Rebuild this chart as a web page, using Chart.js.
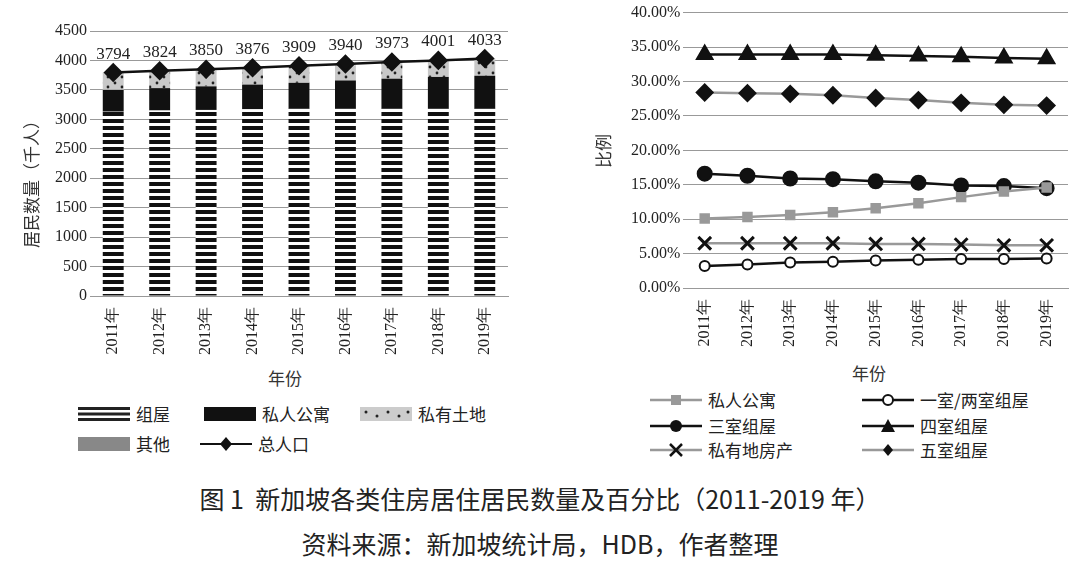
<!DOCTYPE html>
<html><head><meta charset="utf-8">
<script src="https://cdn.jsdelivr.net/npm/chart.js@4"></script>
<style>
body{margin:0;width:1080px;height:565px;background:#fff;position:relative;overflow:hidden;font-family:"Liberation Serif","Noto Sans CJK SC",serif;}
.box{position:absolute}
.t{position:absolute;font-family:"Noto Sans CJK SC",serif;color:#333}
.leg{position:absolute;font-size:17px;color:#222;font-family:"Noto Sans CJK SC",serif;display:flex;align-items:center;gap:6px}
.cap{position:absolute;width:1080px;text-align:center;font-family:"Noto Sans CJK SC",sans-serif;font-size:25px;color:#222}
</style></head><body>
<div class="box" style="left:0;top:0;width:520px;height:358px"><canvas id="c1"></canvas></div>
<div class="box" style="left:590px;top:0;width:490px;height:350px"><canvas id="c2"></canvas></div>
<div class="t" style="left:18px;top:248px;transform:rotate(-90deg);transform-origin:left top;font-size:17px;">居民数量（千人）</div>
<div class="t" style="left:268px;top:365px;font-size:17px">年份</div>
<div class="t" style="left:590px;top:168px;transform:rotate(-90deg);transform-origin:left top;font-size:17px">比例</div>
<div class="t" style="left:852px;top:360px;font-size:17px">年份</div>

<div class="leg" style="left:78px;top:401px"><svg width="52" height="14"><rect y="0" width="52" height="3" fill="#222"/><rect y="5.5" width="52" height="3" fill="#222"/><rect y="11" width="52" height="3" fill="#222"/></svg>组屋</div>
<div class="leg" style="left:204px;top:401px"><svg width="52" height="14"><rect width="52" height="14" fill="#111"/></svg>私人公寓</div>
<div class="leg" style="left:360px;top:401px"><svg width="52" height="14"><rect width="52" height="14" fill="#ccc"/><circle cx="6" cy="5" r="1.5" fill="#222"/><circle cx="17" cy="9" r="1.5" fill="#222"/><circle cx="28" cy="5" r="1.5" fill="#222"/><circle cx="39" cy="9" r="1.5" fill="#222"/><circle cx="48" cy="5" r="1.5" fill="#222"/></svg>私有土地</div>
<div class="leg" style="left:78px;top:431px"><svg width="52" height="14"><rect width="52" height="14" fill="#888"/></svg>其他</div>
<div class="leg" style="left:200px;top:431px"><svg width="52" height="14"><line x1="0" y1="7" x2="52" y2="7" stroke="#111" stroke-width="2"/><polygon points="26,0 32,7 26,14 20,7" fill="#111"/></svg>总人口</div>

<div class="leg" style="left:650px;top:387px"><svg width="52" height="14"><line x1="0" y1="7" x2="52" y2="7" stroke="#999" stroke-width="2.5"/><rect x="21" y="2" width="10" height="10" fill="#999"/></svg>私人公寓</div>
<div class="leg" style="left:862px;top:387px"><svg width="52" height="14"><line x1="0" y1="7" x2="52" y2="7" stroke="#111" stroke-width="2.5"/><circle cx="26" cy="7" r="5" fill="#fff" stroke="#111" stroke-width="2"/></svg>一室/两室组屋</div>
<div class="leg" style="left:650px;top:413px"><svg width="52" height="14"><line x1="0" y1="7" x2="52" y2="7" stroke="#111" stroke-width="2.5"/><circle cx="26" cy="7" r="6" fill="#111"/></svg>三室组屋</div>
<div class="leg" style="left:862px;top:413px"><svg width="52" height="14"><line x1="0" y1="7" x2="52" y2="7" stroke="#111" stroke-width="2.5"/><polygon points="26,0 33,13 19,13" fill="#111"/></svg>四室组屋</div>
<div class="leg" style="left:650px;top:437px"><svg width="52" height="14"><line x1="0" y1="7" x2="52" y2="7" stroke="#999" stroke-width="2.5"/><path d="M20 1L32 13M32 1L20 13" stroke="#111" stroke-width="2.5"/></svg>私有地房产</div>
<div class="leg" style="left:862px;top:437px"><svg width="52" height="14"><line x1="0" y1="7" x2="52" y2="7" stroke="#999" stroke-width="2.5"/><polygon points="26,1 31,7 26,13 21,7" fill="#111"/></svg>五室组屋</div>

<div class="cap" style="top:480px">图 1&nbsp; 新加坡各类住房居住居民数量及百分比（2011-2019 年）</div>
<div class="cap" style="top:525px">资料来源：新加坡统计局，HDB，作者整理</div>
<script>
const years=["2011年","2012年","2013年","2014年","2015年","2016年","2017年","2018年","2019年"];
const total=[3794,3824,3850,3876,3909,3940,3973,4001,4033];
const hdb=[3130,3150,3160,3170,3180,3180,3180,3180,3180];
const condo=[370,380,400,420,440,480,510,540,560];
const land=[274,274,270,266,269,260,263,261,273];
const other=[20,20,20,20,20,20,20,20,20];
const pCondo=[10.1,10.3,10.6,11.0,11.6,12.3,13.2,14.0,14.6];
const p12=[3.2,3.4,3.7,3.8,4.0,4.1,4.2,4.2,4.3];
const p3=[16.6,16.3,15.9,15.8,15.5,15.3,14.9,14.8,14.5];
const p4=[33.9,33.9,33.9,33.9,33.8,33.7,33.6,33.4,33.3];
const pLand=[6.5,6.5,6.5,6.5,6.4,6.4,6.3,6.2,6.2];
const p5=[28.4,28.3,28.2,28.0,27.6,27.3,26.9,26.6,26.5];

function pat(fn,w,h){const c=document.createElement('canvas');c.width=w;c.height=h;const x=c.getContext('2d');fn(x);return x.createPattern(c,'repeat');}
const stripe=pat(x=>{x.fillStyle='#fff';x.fillRect(0,0,4,7);x.fillStyle='#111';x.fillRect(0,0,4,4);},4,7);
const dots=pat(x=>{x.fillStyle='#c8c8c8';x.fillRect(0,0,14,10);x.fillStyle='#222';x.beginPath();x.arc(3,3,1.4,0,7);x.arc(10,7,1.4,0,7);x.fill();},14,10);
const serif='"Liberation Serif","DejaVu Serif",serif';
const gridC='#999';
const labelPlug={id:'lbl',afterDatasetsDraw(ch){const m=ch.getDatasetMeta(4);const c=ch.ctx;c.save();c.font='17px '+serif;c.fillStyle='#222';c.textAlign='center';m.data.forEach((p,i)=>{c.fillText(total[i],p.x,p.y-14);});c.restore();}};
new Chart(document.getElementById('c1'),{
 data:{labels:years,datasets:[
  {type:'bar',label:'组屋',data:hdb,backgroundColor:stripe,stack:'s',order:1},
  {type:'bar',label:'私人公寓',data:condo,backgroundColor:'#111',stack:'s',order:1},
  {type:'bar',label:'私有土地',data:land,backgroundColor:dots,stack:'s',order:1},
  {type:'bar',label:'其他',data:other,backgroundColor:'#bbb',stack:'s',order:1},
  {type:'line',label:'总人口',data:total,borderColor:'#111',borderWidth:2.5,pointStyle:'rectRot',pointRadius:8,pointBackgroundColor:'#111',pointBorderColor:'#111',order:0,stack:'l'}
 ]},
 options:{responsive:true,maintainAspectRatio:false,animation:false,
  layout:{padding:{left:52,right:12,top:31,bottom:0}},
  plugins:{legend:{display:false},tooltip:{enabled:false}},
  datasets:{bar:{barPercentage:0.45,categoryPercentage:1}},
  scales:{x:{stacked:true,grid:{display:false},border:{color:gridC},ticks:{color:'#222',font:{family:serif,size:16},minRotation:90,maxRotation:90}},
   y:{stacked:true,min:0,max:4500,ticks:{stepSize:500,color:'#222',font:{family:serif,size:16},callback:v=>String(v)},grid:{color:gridC,drawTicks:false},border:{display:false}}}},
 plugins:[labelPlug]});
const mk=(l,d,col,ps,r,bg)=>({label:l,data:d,borderColor:col,borderWidth:2.5,pointStyle:ps,pointRadius:r,pointBackgroundColor:bg,pointBorderColor:'#111',pointBorderWidth:2});
new Chart(document.getElementById('c2'),{type:'line',
 data:{labels:years,datasets:[
  Object.assign(mk('私人公寓',pCondo,'#999','rect',6,'#999'),{pointBorderColor:'#999'}),
  mk('一室/两室组屋',p12,'#111','circle',5,'#fff'),
  mk('三室组屋',p3,'#111','circle',7,'#111'),
  mk('四室组屋',p4,'#111','triangle',9,'#111'),
  Object.assign(mk('私有地房产',pLand,'#999','crossRot',9,'#111'),{pointBorderWidth:3}),
  mk('五室组屋',p5,'#999','rectRot',8,'#111')
 ]},
 options:{responsive:true,maintainAspectRatio:false,animation:false,
  layout:{padding:{left:38,right:5,top:6}},
  plugins:{legend:{display:false},tooltip:{enabled:false}},
  scales:{x:{offset:true,grid:{display:false},border:{color:gridC},ticks:{color:'#222',font:{family:serif,size:16},minRotation:90,maxRotation:90}},
   y:{min:0,max:40,ticks:{stepSize:5,color:'#222',font:{family:serif,size:16},callback:v=>v.toFixed(2)+'%'},grid:{color:gridC,drawTicks:false},border:{display:false}}}}});
</script></body></html>
